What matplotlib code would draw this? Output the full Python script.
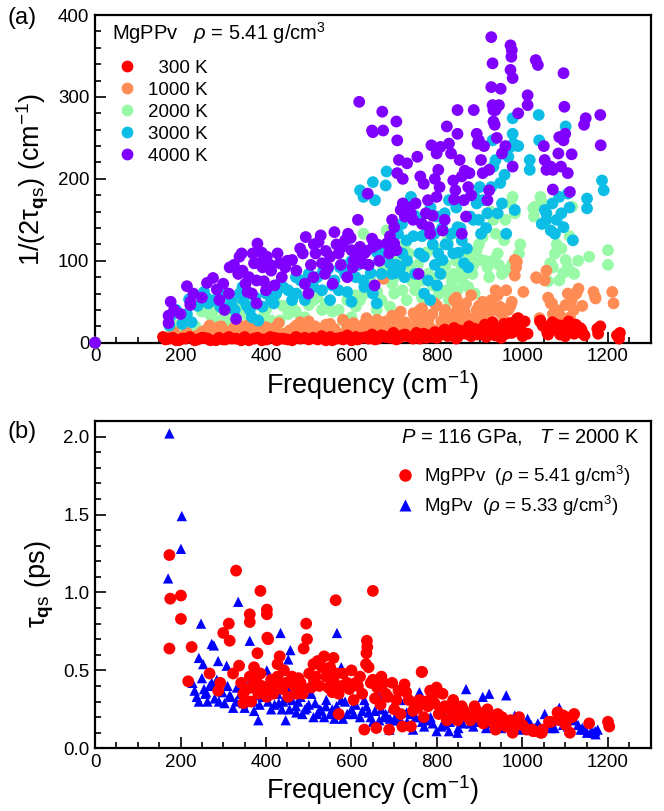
import matplotlib
matplotlib.use("Agg")
import matplotlib.pyplot as plt
from matplotlib.ticker import MultipleLocator, FormatStrFormatter
from matplotlib.lines import Line2D

plt.rcParams["font.family"] = ["Liberation Sans", "DejaVu Sans"]
plt.rcParams["mathtext.fontset"] = "custom"
plt.rcParams["mathtext.rm"] = "Liberation Sans"
plt.rcParams["mathtext.it"] = "Liberation Sans:italic"
plt.rcParams["mathtext.bf"] = "Liberation Sans:bold"

# ---- panel (a): MgPPv linewidths 1/(2 tau) at five temperatures ----
temps = ["  300 K", "1000 K", "2000 K", "3000 K", "4000 K"]
colors = ["#ff0000", "#ff8c55", "#98f9a6", "#0cbee6", "#8000ff"]

f_300 = [0, 159, 174, 204, 233, 263, 283, 313, 342, 372, 402, 432, 461, 491, 521, 550,
         580, 610, 640, 670, 690, 719, 744, 769, 789, 813, 833, 853, 868, 888, 907, 927,
         942, 957, 967, 987, 992, 1012, 1042, 1047, 1066, 1076, 1091, 1101, 1111, 1121,
         1131, 1175, 1177, 1221, 1226, 1182, 1135, 1080, 1041, 990, 948, 908, 190, 250,
         300, 330, 390, 420, 450, 480, 510, 540, 565, 600, 625, 655, 680, 705, 730, 760,
         780, 800, 825, 845, 860, 880, 895, 915, 935, 950, 975, 1000, 1060, 1100, 1140,
         165, 182, 196, 212, 222, 240, 255, 270, 290, 305, 320, 350, 360, 380, 395, 410,
         425, 440, 470, 500, 530, 555, 575, 590, 615, 635, 648, 662, 675, 698, 712, 725,
         738, 752, 765, 775, 795, 805, 818, 828, 840, 850, 865, 875, 885, 900, 912, 920,
         930, 940, 955, 962, 972, 980, 995, 1005, 1050, 1058, 1070, 1088, 1095, 1108, 1115,
         1125, 1138, 1145, 1228]
g_300 = [0, 7, 5, 5, 3, 5, 3, 7, 3, 5, 4, 5, 3, 6, 4, 7,
         4, 7, 5, 9, 6, 9, 5, 11, 7, 13, 9, 15, 11, 17, 13, 19,
         13, 23, 17, 29, 23, 11, 27, 21, 15, 17, 21, 15, 23, 11,
         13, 17, 11, 9, 5, 20, 18, 22, 26, 30, 18, 13, 3, 6,
         4, 5, 3, 6, 4, 5, 6, 3, 5, 3, 6, 4, 7, 4, 8, 5,
         9, 6, 8, 5, 12, 8, 10, 7, 9, 6, 12, 8, 10, 8, 12,
         4, 6, 3, 5, 7, 4, 6, 3, 6, 4, 5, 7, 3, 6, 4, 7,
         3, 5, 7, 4, 8, 3, 6, 9, 4, 7, 10, 5, 8, 12, 6, 10,
         7, 12, 9, 6, 13, 9, 16, 11, 18, 8, 14, 20, 10, 16, 22, 12,
         25, 15, 20, 11, 24, 14, 19, 26, 20, 12, 25, 10, 18, 26, 14,
         22, 16, 9, 12]

f_1000 = [0, 179, 204, 228, 268, 273, 303, 332, 352, 372, 392, 422, 442, 471, 491, 511,
          531, 550, 570, 590, 610, 630, 650, 670, 675, 690, 709, 729, 749, 769, 789, 803,
          818, 833, 848, 858, 868, 878, 893, 903, 907, 918, 927, 937, 947, 957, 962, 967,
          982, 985, 982, 1002, 1032, 1052, 1056, 1066, 1071, 1086, 1101, 1106, 1111, 1126,
          1131, 1166, 1171, 1210, 1213, 987, 1033, 1069, 1127, 1170, 250, 290, 320, 345,
          380, 410, 455, 480, 520, 560, 600, 640, 660, 700, 740, 760, 780, 800, 825, 840,
          860, 885, 915, 945, 975,
          185, 195, 215, 240, 258, 280, 295, 310, 325, 340, 360, 365, 385, 400, 415, 430,
          450, 465, 475, 500, 515, 525, 540, 555, 580, 595, 605, 620, 635, 645, 665, 680,
          695, 705, 715, 725, 735, 745, 755, 765, 775, 785, 795, 810, 820, 830, 840, 845,
          855, 865, 872, 880, 888, 898, 912, 922, 932, 942, 952, 972, 1040, 1060, 1080, 1095,
          1115, 1120, 1140]
g_1000 = [0, 9, 7, 7, 21, 11, 15, 11, 15, 9, 15, 19, 11, 21, 15, 9,
          17, 23, 11, 19, 15, 23, 11, 21, 78, 15, 27, 19, 31, 23, 35, 15,
          35, 27, 44, 31, 48, 23, 40, 27, 50, 35, 52, 64, 44, 27, 64, 40,
          101, 92, 82, 62, 80, 76, 88, 48, 35, 35, 46, 60, 31, 60,
          66, 62, 54, 62, 48, 99, 79, 48, 62, 56, 13, 19, 9, 20,
          22, 12, 15, 25, 12, 17, 22, 14, 28, 30, 18, 40, 28, 45, 30, 52,
          40, 30, 45, 38, 50,
          13, 5, 12, 9, 15, 8, 20, 11, 18, 9, 22, 12, 8, 19, 11, 24,
          9, 18, 13, 26, 20, 12, 22, 15, 28, 13, 24, 18, 30, 20, 14, 26,
          33, 20, 38, 25, 14, 36, 22, 42, 30, 18, 48, 26, 40, 22, 35, 55,
          25, 38, 30, 58, 20, 45, 35, 28, 40, 58, 35, 45, 30, 55, 40, 25,
          52, 40, 45]

f_2000 = [0, 179, 204, 223, 268, 293, 318, 332, 352, 367, 382, 392, 412, 432, 452, 461,
          481, 491, 511, 531, 560, 570, 580, 600, 620, 628, 640, 655, 659, 670, 682, 690,
          700, 709, 719, 729, 734, 740, 749, 759, 769, 779, 789, 799, 808, 813, 823, 828,
          838, 848, 858, 863, 873, 878, 883, 888, 893, 903, 907, 918, 922, 932, 937, 942,
          952, 957, 962, 972, 977, 982, 992, 1027, 1029, 1042, 1047, 1066, 1071, 1076,
          1086, 1091, 1101, 1106, 1116, 1121, 1156, 1200, 1200, 1025, 1065, 1119, 545, 610,
          660, 700, 760, 790, 820, 850, 870, 930,
          185, 210, 235, 250, 275, 285, 305, 325, 345, 360, 375, 400, 420, 440, 470, 500,
          520, 540, 555, 590, 610, 630, 645, 665, 675, 695, 705, 715, 725, 742, 755, 765,
          775, 785, 795, 805, 815, 825, 835, 845, 855, 868, 885, 898, 912, 925, 945, 960,
          975, 995, 1060, 1080, 1095, 1110, 1130]
g_2000 = [0, 15, 15, 17, 35, 27, 25, 31, 44, 15, 21, 31, 27, 27, 35, 44,
          27, 31, 52, 40, 15, 40, 27, 31, 52, 133, 27, 15, 40, 52, 137, 44,
          60, 35, 64, 52, 109, 92, 64, 35, 60, 84, 52, 68, 101, 84, 64, 52,
          84, 64, 92, 72, 68, 105, 84, 60, 113, 101, 129, 92, 80, 150, 133, 109,
          84, 125, 88, 170, 178, 158, 109, 154, 166, 178, 170, 97, 92, 109,
          76, 115, 101, 92, 166, 84, 105, 113, 95, 164, 97, 85, 45, 58,
          62, 80, 75, 70, 95, 80, 110, 100,
          22, 28, 20, 38, 30, 42, 35, 48, 38, 30, 46, 40, 52, 45, 38, 46,
          55, 48, 38, 52, 44, 60, 75, 50, 90, 72, 100, 85, 120, 75, 95, 55,
          110, 80, 115, 60, 95, 125, 75, 100, 130, 85, 95, 120, 100, 160, 95, 150,
          95, 120, 75, 120, 85, 130, 100]

f_3000 = [0, 177, 174, 204, 226, 220, 263, 265, 293, 313, 327, 338, 347, 362, 367, 382,
          392, 412, 432, 424, 452, 461, 471, 481, 491, 511, 531, 550, 560, 570, 585, 600,
          610, 620, 628, 650, 655, 630, 650, 659, 670, 674, 680, 682, 690, 694, 700, 709,
          714, 719, 724, 729, 737, 739, 749, 759, 769, 774, 779, 784, 794, 799, 803, 808,
          813, 818, 828, 833, 838, 848, 858, 863, 873, 878, 888, 893, 898, 903, 907, 918,
          927, 930, 932, 937, 942, 952, 962, 967, 972, 977, 977, 979, 982, 1017, 1017, 1038,
          1039, 1052, 1056, 1056, 1066, 1076, 1086, 1091, 1096, 1101, 1106, 1118, 1151, 1151,
          1186, 1190, 600, 640, 660, 580, 545, 534, 573, 628, 500, 470, 760, 790, 745, 820,
          850, 800, 770, 702,
          190, 215, 240, 255, 280, 300, 320, 345, 355, 375, 400, 418, 440, 465, 490, 520,
          555, 590, 615, 645, 665, 685, 705, 718, 730, 748, 765, 785, 795, 812, 825, 845,
          855, 870, 885, 900, 915, 948, 958, 990, 1045, 1070, 1080, 1110]
g_3000 = [0, 33, 21, 23, 25, 53, 54, 48, 44, 44, 40, 60, 52, 40, 31, 27,
          44, 52, 72, 60, 64, 52, 60, 76, 52, 68, 64, 52, 76, 64, 84, 50,
          80, 186, 178, 196, 174, 68, 60, 48, 84, 109, 192, 209, 97, 84, 113, 133,
          92, 109, 80, 125, 174, 178, 84, 109, 105, 133, 76, 52, 133, 154, 109, 84,
          101, 158, 174, 133, 109, 141, 125, 97, 92, 154, 178, 170, 150, 133, 174, 158,
          190, 247, 215, 223, 158, 170, 133, 227, 239, 274, 255, 243, 162, 223, 211, 278,
          247, 162, 150, 158, 137, 133, 178, 158, 141, 264, 182, 125, 176, 164,
          198, 186, 100, 95, 110, 95, 90, 88, 92, 76, 84, 80, 150, 120, 130, 120,
          110, 70, 60, 85,
          40, 35, 45, 62, 52, 58, 50, 68, 45, 55, 60, 48, 68, 58, 72, 80,
          70, 62, 95, 85, 100, 120, 95, 145, 100, 155, 130, 165, 95, 140, 120, 165,
          140, 115, 150, 190, 140, 195, 205, 240, 145, 170, 150, 165]

f_4000 = [0, 177, 172, 172, 200, 215, 223, 223, 262, 276, 291, 303, 313, 315, 330, 338,
          343, 335, 352, 357, 369, 380, 372, 382, 378, 367, 378, 392, 402, 400, 412, 427,
          432, 437, 461, 471, 486, 493, 491, 499, 511, 516, 523, 528, 531, 538, 550, 556,
          560, 570, 578, 585, 592, 600, 590, 603, 610, 620, 625, 630, 615, 618, 638, 648,
          650, 654, 648, 650, 672, 674, 682, 688, 700, 705, 705, 707, 707, 711, 700, 715,
          720, 725, 730, 739, 744, 754, 757, 761, 769, 774, 779, 781, 784, 787, 799, 803,
          799, 806, 808, 813, 823, 828, 833, 838, 843, 848, 848, 853, 858, 863, 868, 858,
          873, 876, 886, 893, 895, 898, 903, 907, 918, 922, 922, 927, 930, 927, 930, 932,
          937, 932, 935, 949, 952, 972, 975, 974, 972, 977, 977, 1012, 1012, 1031, 1036,
          1052, 1056, 1066, 1071, 1071, 1084, 1086, 1096, 1096, 1098, 1106, 1111, 1144,
          1148, 1182, 1183,
          185, 230, 250, 285, 300, 325, 345, 360, 390, 395, 410, 420, 445, 450, 480, 505,
          512, 540, 545, 565, 575, 598, 605, 635, 640, 660, 665, 690, 695, 720, 735, 750,
          765, 790, 795, 818, 840, 865, 880, 910, 940, 945, 960, 990, 1050, 1090, 1100, 1115]
g_4000 = [0, 50, 33, 24, 35, 69, 50, 46, 73, 79, 52, 40, 60, 92, 29, 105,
          109, 84, 72, 62, 109, 121, 97, 97, 76, 60, 48, 92, 105, 64, 88, 109,
          97, 80, 101, 88, 109, 129, 72, 60, 80, 109, 123, 131, 97, 84, 105, 72,
          135, 109, 117, 125, 133, 113, 80, 92, 105, 117, 97, 109, 150, 294, 182, 127,
          117, 70, 259, 257, 282, 259, 121, 109, 121, 113, 270, 247, 207, 223, 141, 162,
          170, 154, 219, 158, 150, 227, 84, 203, 194, 158, 174, 141, 133, 241, 231, 211,
          178, 190, 239, 137, 264, 243, 231, 198, 186, 284, 255, 223, 203, 174, 154, 133,
          190, 207, 284, 255, 243, 247, 223, 207, 174, 186, 211, 373, 341, 312, 290, 284,
          284, 270, 266, 310, 231, 363, 357, 349, 333, 323, 215, 302, 290, 345, 339,
          223, 211, 215, 211, 187, 231, 251, 247, 329, 288, 207, 184, 266,
          274, 278, 241,
          40, 60, 55, 65, 72, 95, 88, 80, 110, 75, 95, 70, 92, 100, 115, 95,
          120, 112, 92, 120, 95, 128, 100, 112, 95, 120, 100, 130, 150, 200, 165, 170,
          145, 155, 200, 150, 175, 210, 180, 240, 250, 290, 240, 280, 240, 215, 255, 230]

# ---- panel (b): lifetimes at 116 GPa, 2000 K ----
fb_ppv = [174, 176, 201, 201, 174, 226, 218, 330, 313, 300, 315, 362, 362, 387, 402, 402,
          403, 405, 380, 432, 427, 494, 496, 488, 563, 558, 650, 636, 637, 635, 634, 764,
          268, 293, 288, 323, 337, 342, 347, 347, 362, 367, 372, 377, 382, 387, 397, 402,
          412, 417, 427, 432, 442, 447, 461, 471, 481, 486, 501, 506, 511, 516, 521, 531,
          536, 541, 546, 550, 560, 570, 570, 580, 590, 600, 605, 610, 620, 625, 630, 640,
          650, 658, 660, 670, 680, 685, 688, 695, 705, 710, 715, 719, 724, 734, 739, 749,
          759, 769, 779, 784, 789, 799, 804, 813, 818, 823, 828, 838, 843, 848, 858, 868,
          878, 888, 898, 908, 918, 927, 937, 942, 957, 962, 977, 987, 992, 1022, 1027, 1042,
          1047, 1062, 1067, 1082, 1087, 1096, 1101, 1111, 1116, 1121, 1156, 1200, 1203,
          765, 1083, 1118, 1025, 1045,
          355, 365, 375, 390, 408, 420, 438, 452, 466, 476, 490, 512, 525, 545, 555, 565,
          578, 595, 615, 645, 655, 668, 675, 700, 728, 744, 755, 774, 794, 808, 833, 853,
          863, 873, 893, 913, 932, 947, 952, 972, 982, 1000, 1010]
tb_ppv = [1.24, 0.96, 0.98, 0.83, 0.64, 0.65, 0.43, 1.14, 0.80, 0.74, 0.69, 0.86, 0.81, 1.01, 0.89, 0.86,
          0.71, 0.70, 0.61, 0.59, 0.54, 0.80, 0.70, 0.64, 0.95, 0.58, 1.01, 0.69, 0.65, 0.61, 0.54, 0.49,
          0.48, 0.42, 0.37, 0.48, 0.53, 0.42, 0.35, 0.29, 0.46, 0.39, 0.52, 0.44, 0.35, 0.48, 0.39, 0.33,
          0.44, 0.35, 0.46, 0.39, 0.50, 0.42, 0.46, 0.35, 0.42, 0.35, 0.48, 0.39, 0.54, 0.46, 0.56, 0.52,
          0.59, 0.46, 0.39, 0.52, 0.42, 0.35, 0.22, 0.48, 0.42, 0.50, 0.31, 0.42, 0.46, 0.35, 0.12, 0.52,
          0.44, 0.13, 0.39, 0.46, 0.35, 0.33, 0.12, 0.42, 0.31, 0.37, 0.22, 0.14, 0.41, 0.31, 0.14, 0.27,
          0.31, 0.20, 0.27, 0.37, 0.33, 0.39, 0.22, 0.35, 0.27, 0.18, 0.25, 0.31, 0.22, 0.18, 0.27, 0.22,
          0.18, 0.27, 0.20, 0.16, 0.25, 0.19, 0.12, 0.22, 0.18, 0.14, 0.10, 0.16, 0.20, 0.12, 0.11, 0.10,
          0.12, 0.17, 0.17, 0.23, 0.18, 0.21, 0.15, 0.10, 0.20, 0.22, 0.16, 0.17, 0.14,
          0.49, 0.23, 0.21, 0.11, 0.10,
          0.38, 0.30, 0.45, 0.40, 0.36, 0.42, 0.38, 0.33, 0.40, 0.45, 0.38, 0.44, 0.40, 0.50, 0.36, 0.48,
          0.40, 0.38, 0.40, 0.42, 0.32, 0.28, 0.42, 0.25, 0.36, 0.24, 0.26, 0.30, 0.29, 0.24, 0.28, 0.22,
          0.24, 0.20, 0.24, 0.20, 0.16, 0.17, 0.20, 0.18, 0.14, 0.15, 0.12]

fb_pv = [174, 203, 201, 171, 248, 335, 434, 566, 362, 273, 278, 243, 253, 288, 308, 457,
         452, 576, 228, 233, 238, 243, 258, 263, 273, 293, 303, 318, 323, 332, 347, 362,
         372, 382, 392, 402, 412, 427, 437, 446, 452, 461, 471, 481, 491, 506, 511, 526,
         536, 541, 550, 560, 576, 580, 600, 620, 630, 640, 650, 660, 665, 680, 689, 699,
         714, 719, 729, 744, 759, 764, 779, 799, 808, 818, 828, 843, 848, 868, 878, 893,
         907, 922, 927, 942, 962, 967, 982, 997, 1012, 1027, 1036, 1052, 1066, 1081, 1086,
         1106, 1121, 1136, 1151, 1161, 1171, 1176, 250, 255, 268, 280, 285, 298, 310, 330,
         340, 355, 370, 385, 395, 405, 420, 440, 455, 470, 485, 500, 520, 540, 555, 590,
         610, 625, 645, 670, 690, 705, 730, 750, 770, 790, 810, 830, 860, 885, 900, 915,
         935, 950, 975, 990, 1005, 1020, 1045, 1060, 1075, 1095, 1110, 1130, 1145, 1165,
         260, 290, 315, 350, 378, 410, 430, 448, 475, 495, 515, 530, 565, 585, 605, 635,
         655, 675, 695, 710, 740, 765, 785, 820, 850, 870, 890, 945, 1000, 1040, 1100, 1140, 1170]
tb_pv = [2.02, 1.49, 1.28, 1.09, 0.80, 0.94, 0.74, 0.74, 0.69, 0.67, 0.66, 0.58, 0.54, 0.56, 0.53, 0.63,
         0.57, 0.52, 0.42, 0.37, 0.33, 0.30, 0.35, 0.30, 0.42, 0.37, 0.29, 0.33, 0.26, 0.39, 0.29, 0.42,
         0.24, 0.18, 0.33, 0.50, 0.25, 0.35, 0.25, 0.18, 0.37, 0.31, 0.23, 0.33, 0.25, 0.35, 0.20, 0.25,
         0.20, 0.31, 0.22, 0.19, 0.31, 0.19, 0.25, 0.20, 0.31, 0.23, 0.17, 0.35, 0.18, 0.22, 0.12, 0.18,
         0.31, 0.16, 0.23, 0.12, 0.36, 0.20, 0.18, 0.11, 0.25, 0.15, 0.11, 0.25, 0.10, 0.38, 0.16, 0.22,
         0.33, 0.35, 0.16, 0.20, 0.34, 0.18, 0.21, 0.12, 0.19, 0.13, 0.16, 0.22, 0.13, 0.18, 0.26,
         0.14, 0.18, 0.12, 0.10, 0.11, 0.09, 0.12, 0.45, 0.38, 0.40, 0.32, 0.44, 0.36, 0.40, 0.30,
         0.35, 0.32, 0.30, 0.28, 0.38, 0.30, 0.28, 0.30, 0.25, 0.27, 0.22, 0.28, 0.22, 0.27, 0.25, 0.22,
         0.28, 0.24, 0.20, 0.25, 0.19, 0.21, 0.17, 0.20, 0.14, 0.16, 0.14, 0.17, 0.16, 0.14, 0.17, 0.13,
         0.15, 0.13, 0.14, 0.16, 0.13, 0.15, 0.12, 0.15, 0.13, 0.15, 0.12, 0.15, 0.12, 0.10,
         0.36, 0.30, 0.34, 0.26, 0.34, 0.36, 0.29, 0.32, 0.30, 0.26, 0.29, 0.24, 0.27, 0.30, 0.22, 0.27,
         0.24, 0.20, 0.26, 0.18, 0.22, 0.17, 0.20, 0.19, 0.13, 0.20, 0.18, 0.18, 0.16, 0.14, 0.17, 0.13, 0.11]

series_a = [(f_300, g_300), (f_1000, g_1000), (f_2000, g_2000), (f_3000, g_3000), (f_4000, g_4000)]
zorders = [5, 4, 3, 6, 7]

fig = plt.figure(figsize=(6.64, 8.11), dpi=100)
ax1 = fig.add_axes([0.1431, 0.5774, 0.8369, 0.4041])
ax2 = fig.add_axes([0.1431, 0.0773, 0.8369, 0.4036])


def style_axis(ax):
    for sp in ax.spines.values():
        sp.set_linewidth(1.6)
    ax.tick_params(which="both", direction="in", top=False, right=False,
                   labelsize=13.5, width=1.2, pad=4)
    ax.tick_params(which="major", length=8)
    ax.tick_params(which="minor", length=4.5)
    ax.set_xlim(0, 1300)
    ax.xaxis.set_major_locator(MultipleLocator(200))
    ax.xaxis.set_minor_locator(MultipleLocator(50))
    ax.set_xlabel("Frequency (cm$^{-1}$)", fontsize=19.5, labelpad=2)


# panel (a)
for (fx, gy), c, z, lab in zip(series_a, colors, zorders, temps):
    ax1.scatter(fx, gy, s=72, color=c, edgecolors="none", zorder=z, label=lab, clip_on=False)
style_axis(ax1)
ax1.set_ylim(0, 400)
ax1.yaxis.set_major_locator(MultipleLocator(100))
ax1.yaxis.set_minor_locator(MultipleLocator(20))
ax1.set_ylabel(r"1/(2τ$_{\mathbf{q}\mathrm{s}}$) (cm$^{-1}$)", fontsize=19.5, labelpad=5)
ax1.text(0.03, 0.945, r"MgPPv   $\rho$ = 5.41 g/cm$^3$", transform=ax1.transAxes,
         fontsize=14.5, va="center", ha="left")
handles = [Line2D([], [], ls="none", marker="o", ms=8.5, mfc=c, mec="none") for c in colors]
ax1.legend(handles, temps, loc="upper left", bbox_to_anchor=(0.0, 0.915), frameon=False,
           fontsize=13.5, handletextpad=0.3, labelspacing=0.26, borderpad=0.4, handlelength=1.6)
fig.text(0.012, 0.978, "(a)", fontsize=17, va="center", ha="left")

# panel (b)
ax2.scatter(fb_pv, tb_pv, s=55, marker="^", color="#0000ff", edgecolors="none", zorder=3)
ax2.scatter(fb_ppv, tb_ppv, s=72, marker="o", color="#ff0000", edgecolors="none", zorder=4)
style_axis(ax2)
ax2.set_ylim(0, 2.1)
ax2.yaxis.set_major_locator(MultipleLocator(0.5))
ax2.yaxis.set_minor_locator(MultipleLocator(0.1))
ax2.yaxis.set_major_formatter(FormatStrFormatter("%.1f"))
ax2.set_ylabel(r"τ$_{\mathbf{q}\mathrm{s}}$ (ps)", fontsize=19.5, labelpad=5)
ax2.text(0.98, 0.952, r"$P$ = 116 GPa,   $T$ = 2000 K", transform=ax2.transAxes,
         fontsize=14.5, va="center", ha="right")
hb = [Line2D([], [], ls="none", marker="o", ms=9, mfc="#ff0000", mec="none"),
      Line2D([], [], ls="none", marker="^", ms=8, mfc="#0000ff", mec="none")]
ax2.legend(hb, [r"MgPPv  ($\rho$ = 5.41 g/cm$^3$)", r"MgPv  ($\rho$ = 5.33 g/cm$^3$)"],
           loc="upper right", bbox_to_anchor=(0.99, 0.915), frameon=False, fontsize=13.5,
           handletextpad=0.3, labelspacing=0.3, borderpad=0.3, handlelength=1.4)
fig.text(0.012, 0.467, "(b)", fontsize=17, va="center", ha="left")

fig.savefig("out.png", dpi=100)
